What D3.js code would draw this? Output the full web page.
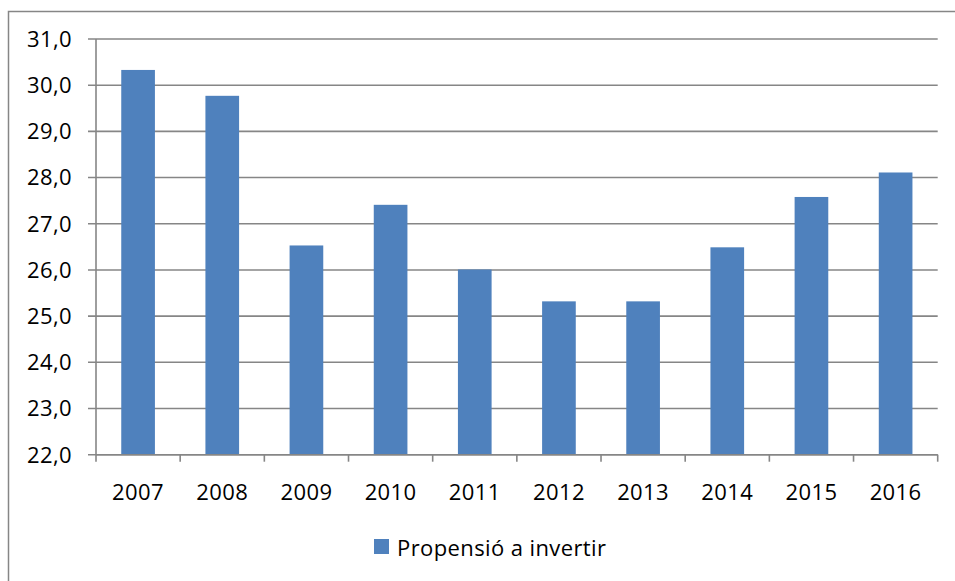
<!DOCTYPE html>
<html>
<head>
<meta charset="utf-8">
<script src="https://cdn.jsdelivr.net/npm/d3@7"></script>
<style>
  body { margin: 0; background: #fff; }
  svg { display: block; }
</style>
</head>
<body>
<div id="chart"></div>
<script>
var years = ['2007', '2008', '2009', '2010', '2011', '2012', '2013', '2014', '2015', '2016'];
var values = [30.33, 29.77, 26.53, 27.41, 26.01, 25.32, 25.32, 26.49, 27.58, 28.11];
var yTicks = [22, 23, 24, 25, 26, 27, 28, 29, 30, 31];
var seriesName = 'Propensió a invertir';

var width = 955;
var height = 581;
var plotLeft = 96, plotRight = 937.7, plotTop = 39, plotBottom = 454.7;
var font = '"Open Sans", sans-serif';
var fontSize = '22px';
var spacing = '0.4px';
var grey = '#868686';
var blue = '#4F81BD';

var svg = d3.select('#chart')
    .append('svg')
    .attr('width', width)
    .attr('height', height);

// outer frame, it runs off the right and bottom edges
svg.append('rect')
    .attr('x', 8.5)
    .attr('y', 11.5)
    .attr('width', 1000)
    .attr('height', 1000)
    .style('fill', 'none')
    .style('stroke', grey)
    .style('stroke-width', 1.5);

var x = d3.scaleBand()
    .domain(years)
    .range([plotLeft, plotRight])
    .paddingInner(0.6)
    .paddingOuter(0.3);

var xEdges = d3.scaleBand()
    .domain(years)
    .range([plotLeft, plotRight]);

var y = d3.scaleLinear()
    .domain([22, 31])
    .range([plotBottom, plotTop]);

// gridlines
svg.append('g')
    .selectAll('line')
    .data(yTicks)
    .enter().append('line')
    .attr('x1', plotLeft - 8)
    .attr('x2', plotRight)
    .attr('y1', function(d){ return y(d); })
    .attr('y2', function(d){ return y(d); })
    .style('stroke', grey)
    .style('stroke-width', 1.6);

// y labels
svg.append('g')
    .selectAll('text')
    .data(yTicks)
    .enter().append('text')
    .attr('x', 72)
    .attr('y', function(d){ return y(d); })
    .attr('dy', '0.36em')
    .attr('text-anchor', 'end')
    .style('font-family', font)
    .style('font-size', fontSize)
    .style('letter-spacing', spacing)
    .style('fill', '#000')
    .text(function(d){ return d3.format('.1f')(d).replace('.', ','); });

// bars
svg.append('g')
    .selectAll('rect')
    .data(values)
    .enter().append('rect')
    .attr('x', function(d, i){ return x(years[i]); })
    .attr('y', function(d){ return y(d); })
    .attr('width', x.bandwidth())
    .attr('height', function(d){ return y(22) - y(d); })
    .style('fill', blue);

// y axis line
svg.append('line')
    .attr('x1', plotLeft).attr('x2', plotLeft)
    .attr('y1', plotTop).attr('y2', plotBottom)
    .style('stroke', grey)
    .style('stroke-width', 1.6);

// x axis line and ticks
svg.append('line')
    .attr('x1', plotLeft).attr('x2', plotRight)
    .attr('y1', plotBottom).attr('y2', plotBottom)
    .style('stroke', grey)
    .style('stroke-width', 1.6);

var tickPos = years.map(function(d){ return xEdges(d); }).concat([plotRight]);
svg.append('g')
    .selectAll('line')
    .data(tickPos)
    .enter().append('line')
    .attr('x1', function(d){ return d; })
    .attr('x2', function(d){ return d; })
    .attr('y1', plotBottom)
    .attr('y2', plotBottom + 7)
    .style('stroke', grey)
    .style('stroke-width', 1.6);

// x labels
svg.append('g')
    .selectAll('text')
    .data(years)
    .enter().append('text')
    .attr('x', function(d){ return x(d) + x.bandwidth() / 2; })
    .attr('y', 500)
    .attr('text-anchor', 'middle')
    .style('font-family', font)
    .style('font-size', fontSize)
    .style('letter-spacing', spacing)
    .style('fill', '#000')
    .text(function(d){ return d; });

// legend
var legend = svg.append('g');
legend.append('rect')
    .attr('x', 374)
    .attr('y', 539)
    .attr('width', 15)
    .attr('height', 15)
    .style('fill', blue);
legend.append('text')
    .attr('x', 397)
    .attr('y', 556)
    .style('font-family', font)
    .style('font-size', fontSize)
    .style('letter-spacing', spacing)
    .style('fill', '#000')
    .text(seriesName);
</script>
</body>
</html>
